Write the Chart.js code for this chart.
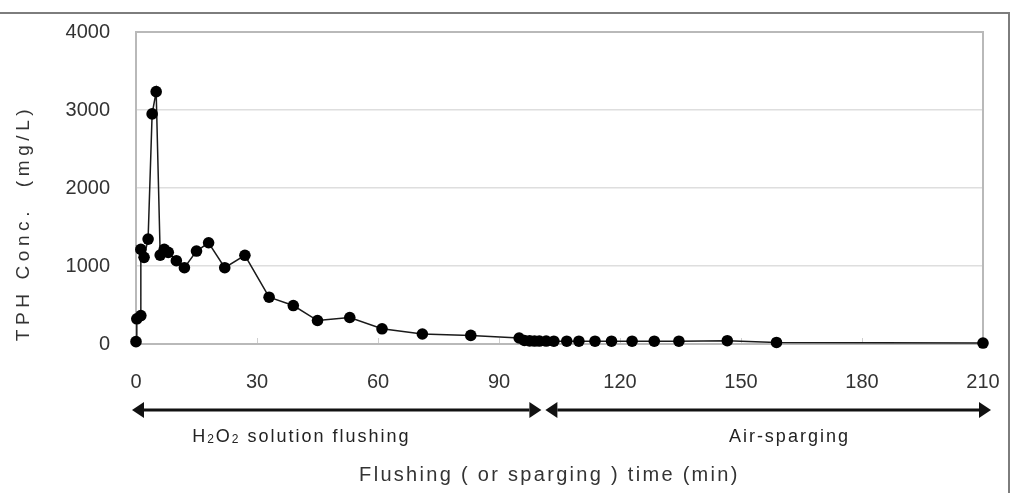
<!DOCTYPE html>
<html>
<head>
<meta charset="utf-8">
<script src="https://cdn.jsdelivr.net/npm/chart.js@4.4.1/dist/chart.umd.min.js"></script>
<style>
  html, body { margin: 0; padding: 0; background: #fff; }
  canvas { display: block; }
</style>
</head>
<body>
<canvas id="chart" width="1014" height="493"></canvas>
<script>
(function () {
  'use strict';

  // --- Data ---

  var timeMin = [0, 0.2, 1.2, 1.2, 2, 3, 4, 5, 6, 7, 8, 10, 12, 15, 18, 22, 27, 33, 39, 45,
    53, 61, 71, 83, 95, 96.3, 97.6, 98.8, 100, 101.7, 103.6, 106.8, 109.8, 113.8, 117.9,
    123, 128.5, 134.6, 146.6, 158.8, 210];
  var tphConc = [30, 323, 365, 1213, 1111, 1345, 2950, 3235, 1140, 1213, 1175, 1068, 978, 1192, 1298, 978, 1137, 600, 493, 301,
    340, 195, 128, 110, 77, 45, 40, 38, 38, 38, 36, 36, 36, 36, 36,
    36, 36, 36, 42, 20, 12];

  var xTicks = [0, 30, 60, 90, 120, 150, 180, 210];
  var yTicks = [0, 1000, 2000, 3000, 4000];

  // flushing ends / sparging starts (min)
  var phaseBreak = 101;
  var xTitle = 'Flushing ( or sparging ) time (min)';
  var yTitle = 'TPH Conc.  (mg/L)';

  var FONT = "'Liberation Sans', Arial, sans-serif";
  var TEXT = '#333';

  // --- Helpers ---

  function arrow(ctx, x1, x2, y) {
    var hl = 12, hw = 8;
    var dir = x2 > x1 ? 1 : -1;
    ctx.beginPath();
    ctx.moveTo(x1 + dir * hl, y);
    ctx.lineTo(x2 - dir * hl, y);
    ctx.stroke();
    [[x1, -dir], [x2, dir]].forEach(function (h) {
      var tip = h[0], d = h[1];
      ctx.beginPath();
      ctx.moveTo(tip, y);
      ctx.lineTo(tip - d * hl, y - hw);
      ctx.lineTo(tip - d * hl, y + hw);
      ctx.closePath();
      ctx.fill();
    });
  }

  // runs of [text, isSubscript], centred on cx
  function richText(ctx, runs, cx, y, size) {
    var small = Math.round(size * 0.68);
    var w = 0;
    runs.forEach(function (r) {
      ctx.font = (r[1] ? small : size) + 'px ' + FONT;
      w += ctx.measureText(r[0]).width;
    });
    var x = cx - w / 2;
    ctx.textAlign = 'left';
    runs.forEach(function (r) {
      ctx.font = (r[1] ? small : size) + 'px ' + FONT;
      ctx.fillText(r[0], x, r[1] ? y + 3 : y);
      x += ctx.measureText(r[0]).width;
    });
  }

  var decor = {
    id: 'decor',
    beforeDatasetsDraw: function (chart) {
      var ctx = chart.ctx, a = chart.chartArea, xs = chart.scales.x;
      ctx.save();
      ctx.strokeStyle = '#b9b9b9';
      ctx.lineWidth = 2;
      ctx.strokeRect(a.left, a.top, a.right - a.left, a.bottom - a.top);
      // little inward tick marks on the x axis
      ctx.lineWidth = 1;
      ctx.strokeStyle = '#cfcfcf';
      xTicks.forEach(function (v) {
        var px = Math.round(xs.getPixelForValue(v)) + 0.5;
        ctx.beginPath();
        ctx.moveTo(px, a.bottom - 1);
        ctx.lineTo(px, a.bottom - 6);
        ctx.stroke();
      });
      ctx.restore();
    },
    afterDraw: function (chart) {
      var ctx = chart.ctx, xs = chart.scales.x;
      var W = chart.width, H = chart.height;
      ctx.save();

      // outer frame (top and right edges are visible)
      ctx.strokeStyle = '#7d7d7d';
      ctx.lineWidth = 2;
      ctx.beginPath();
      ctx.moveTo(0, 13);
      ctx.lineTo(W - 5, 13);
      ctx.lineTo(W - 5, H);
      ctx.stroke();

      // phase arrows
      var ay = 410;
      var xb = xs.getPixelForValue(phaseBreak);
      ctx.strokeStyle = '#111';
      ctx.fillStyle = '#111';
      ctx.lineWidth = 3;
      arrow(ctx, xs.getPixelForValue(0) - 4, xb - 2, ay);
      arrow(ctx, xb + 2, xs.getPixelForValue(210) + 8, ay);

      // phase labels
      ctx.fillStyle = '#222';
      ctx.textBaseline = 'middle';
      ctx.letterSpacing = '2px';
      richText(ctx, [['H', false], ['2', true], ['O', false], ['2', true], [' solution flushing', false]],
        xs.getPixelForValue(41), 437, 18);
      ctx.font = '18px ' + FONT;
      ctx.textAlign = 'center';
      ctx.fillText('Air-sparging', xs.getPixelForValue(162), 437);

      // x title
      ctx.font = '20px ' + FONT;
      ctx.fillStyle = TEXT;
      ctx.letterSpacing = '2.3px';
      ctx.fillText(xTitle, xs.getPixelForValue(102.5), 475);

      // y title
      ctx.translate(24, 223);
      ctx.rotate(-Math.PI / 2);
      ctx.font = '19px ' + FONT;
      ctx.letterSpacing = '4.6px';
      ctx.fillText(yTitle, 0, 0);
      ctx.restore();
    }
  };

  var ctx = document.getElementById('chart').getContext('2d');
  new Chart(ctx, {
    type: 'line',
    data: {
      datasets: [{
        data: timeMin.map(function (t, i) { return { x: t, y: tphConc[i] }; }),
        borderColor: '#1a1a1a',
        borderWidth: 1.5,
        backgroundColor: '#000',
        pointBackgroundColor: '#000',
        pointBorderWidth: 0,
        pointRadius: 5.8,
        tension: 0,
        fill: false,
        clip: false
      }]
    },
    options: {
      responsive: false,
      animation: false,
      events: [],
      layout: { padding: { top: 32, right: 31, left: 0, bottom: 0 } },
      plugins: { legend: { display: false }, tooltip: { enabled: false } },
      scales: {
        x: {
          type: 'linear',
          min: 0,
          max: 210,
          afterBuildTicks: function (s) { s.ticks = xTicks.map(function (v) { return { value: v }; }); },
          afterFit: function (s) { s.height = 149; s.paddingLeft = 0; s.paddingRight = 0; },
          grid: { display: false },
          border: { display: false },
          ticks: { padding: 18, color: TEXT, font: { family: FONT, size: 20 }, maxRotation: 0 }
        },
        y: {
          min: 0,
          max: 4000,
          afterBuildTicks: function (s) { s.ticks = yTicks.map(function (v) { return { value: v }; }); },
          afterFit: function (s) { s.width = 136; s.paddingTop = 0; s.paddingBottom = 0; },
          grid: { color: '#dedede', lineWidth: 1.5, drawTicks: false },
          border: { display: false },
          ticks: {
            padding: 26, color: TEXT, font: { family: FONT, size: 20 },
            callback: function (v) { return String(v); }
          }
        }
      }
    },
    plugins: [decor]
  });
})();
</script>
</body>
</html>
